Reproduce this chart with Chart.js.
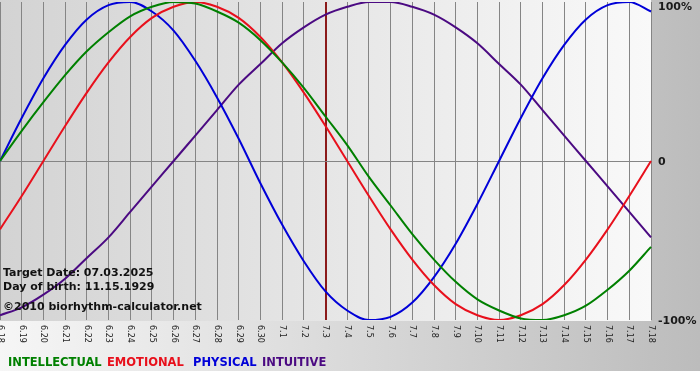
<!DOCTYPE html>
<html>
<head>
<meta charset="utf-8">
<script src="https://cdn.jsdelivr.net/npm/chart.js@4/dist/chart.umd.min.js"></script>
<style>
  html, body { margin: 0; padding: 0; background: #fff; }
  canvas { display: block; }
</style>
</head>
<body>
<canvas id="chart" width="700" height="380"></canvas>
<script>
/* Biorhythm chart, 6.18 – 7.18, values in percent */
const DAYS = [
  "6.18", "6.19", "6.20", "6.21", "6.22", "6.23", "6.24", "6.25", "6.26", "6.27",
  "6.28", "6.29", "6.30", "7.1", "7.2", "7.3", "7.4", "7.5", "7.6", "7.7",
  "7.8", "7.9", "7.10", "7.11", "7.12", "7.13", "7.14", "7.15", "7.16", "7.17", "7.18",
];
const INTELLECTUAL = [0, 19, 37, 54, 69, 81, 91, 97, 100, 99, 94, 87, 76, 62, 46, 28,
  10, -10, -28, -46, -62, -76, -87, -94, -99, -100, -97, -91, -81, -69, -54];
const EMOTIONAL = [-43, -22, 0, 22, 43, 62, 78, 90, 97, 100, 97, 90, 78, 62, 43, 22,
  0, -22, -43, -62, -78, -90, -97, -100, -97, -90, -78, -62, -43, -22, 0];
const PHYSICAL = [0, 27, 52, 73, 89, 98, 100, 94, 82, 63, 40, 14, -14, -40, -63, -82,
  -94, -100, -98, -89, -73, -52, -27, 0, 27, 52, 73, 89, 98, 100, 94];
const INTUITIVE = [-97, -92, -84, -74, -61, -48, -32, -16, 0, 16, 32, 48, 61, 74, 84, 92,
  97, 100, 100, 97, 92, 84, 74, 61, 48, 32, 16, 0, -16, -32, -48];
const SERIES = ["INTELLECTUAL", "EMOTIONAL", "PHYSICAL", "INTUITIVE"];
const TARGET_DAY = "7.3";
const Y_TICKS = [100, 0, -100];
const INFO = ["Target Date: 07.03.2025", "Day of birth: 11.15.1929", "©2010 biorhythm-calculator.net"];

const COLORS = ["#008000", "#e8101c", "#0000d8", "#4b0a82"];
const targetIdx = DAYS.indexOf(TARGET_DAY);
const FONT = "'DejaVu Sans', Verdana, sans-serif";

const backdrop = {
  id: "backdrop",
  beforeDraw(chart) {
    const { ctx, width, height, chartArea: a } = chart;
    ctx.save();
    ctx.fillStyle = "#fff";
    ctx.fillRect(0, 0, width, height);
    let g = ctx.createLinearGradient(0, 0, width, 0);
    g.addColorStop(0, "#f6f6f6");
    g.addColorStop(1, "#bcbcbc");
    ctx.fillStyle = g;
    ctx.fillRect(0, 0, width, 371);
    g = ctx.createLinearGradient(a.left, 0, a.right, 0);
    g.addColorStop(0, "#d3d3d3");
    g.addColorStop(1, "#f9f9f9");
    ctx.fillStyle = g;
    ctx.fillRect(a.left, 0, a.right - a.left, a.bottom + 1);
    ctx.restore();
  },
};

const texts = {
  id: "texts",
  afterDatasetsDraw(chart) {
    const { ctx, chartArea: a, scales: { x: xs, y: ys } } = chart;
    ctx.save();
    // info block
    ctx.font = "bold 11px " + FONT;
    ctx.fillStyle = "#111";
    ctx.textAlign = "left";
    ctx.textBaseline = "alphabetic";
    [276, 290, 310].forEach((y, i) => ctx.fillText(INFO[i], 3, y));

    // day labels, rotated clockwise
    ctx.font = "8px " + FONT;
    ctx.fillStyle = "#222";
    ctx.textBaseline = "middle";
    DAYS.forEach((d, i) => {
      ctx.save();
      ctx.translate(xs.getPixelForValue(i), a.bottom + 5);
      ctx.rotate(Math.PI / 2);
      ctx.fillText(d, 0, 0);
      ctx.restore();
    });

    // right side percent labels
    ctx.font = "bold 11px " + FONT;
    ctx.fillStyle = "#1a1a1a";
    Y_TICKS.forEach(v => {
      const y = Math.max(ys.getPixelForValue(v) + 1.5, 7.5);
      ctx.fillText(v === 0 ? "0" : v + "%", a.right + 7, y);
    });

    // legend words
    ctx.font = "bold 11.5px " + FONT;
    ctx.textBaseline = "alphabetic";
    [8, 107, 193, 262].forEach((x, i) => {
      ctx.fillStyle = COLORS[i];
      ctx.fillText(SERIES[i], x, 366);
    });
    ctx.restore();
  },
};

new Chart(document.getElementById("chart"), {
  type: "line",
  data: {
    labels: DAYS,
    datasets: [INTELLECTUAL, EMOTIONAL, PHYSICAL, INTUITIVE].map((d, i) => ({
      label: SERIES[i], data: d, borderColor: COLORS[i],
    })),
  },
  options: {
    responsive: false, animation: false,
    layout: { padding: { left: 0, right: 49, top: 2, bottom: 60 } },
    elements: {
      point: { radius: 0 },
      line: { borderWidth: 2, cubicInterpolationMode: "monotone" },
    },
    plugins: { legend: { display: false }, tooltip: { enabled: false } },
    scales: {
      x: {
        offset: false,
        ticks: { display: false },
        border: { display: false },
        grid: {
          drawTicks: false,
          color: c => c.index === targetIdx ? "#8b1a1a" : "#858585",
          lineWidth: c => c.index === targetIdx ? 2 : 1,
        },
        afterFit: s => { s.height = 0; },
      },
      y: {
        min: -100, max: 100, position: "right",
        ticks: { display: false, stepSize: 100 },
        border: { display: false },
        grid: {
          drawTicks: false,
          color: c => c.tick && c.tick.value === 0 ? "#858585" : "rgba(0,0,0,0)",
        },
        afterFit: s => { s.width = 0; },
      },
    },
  },
  plugins: [backdrop, texts],
});
</script>
</body>
</html>
